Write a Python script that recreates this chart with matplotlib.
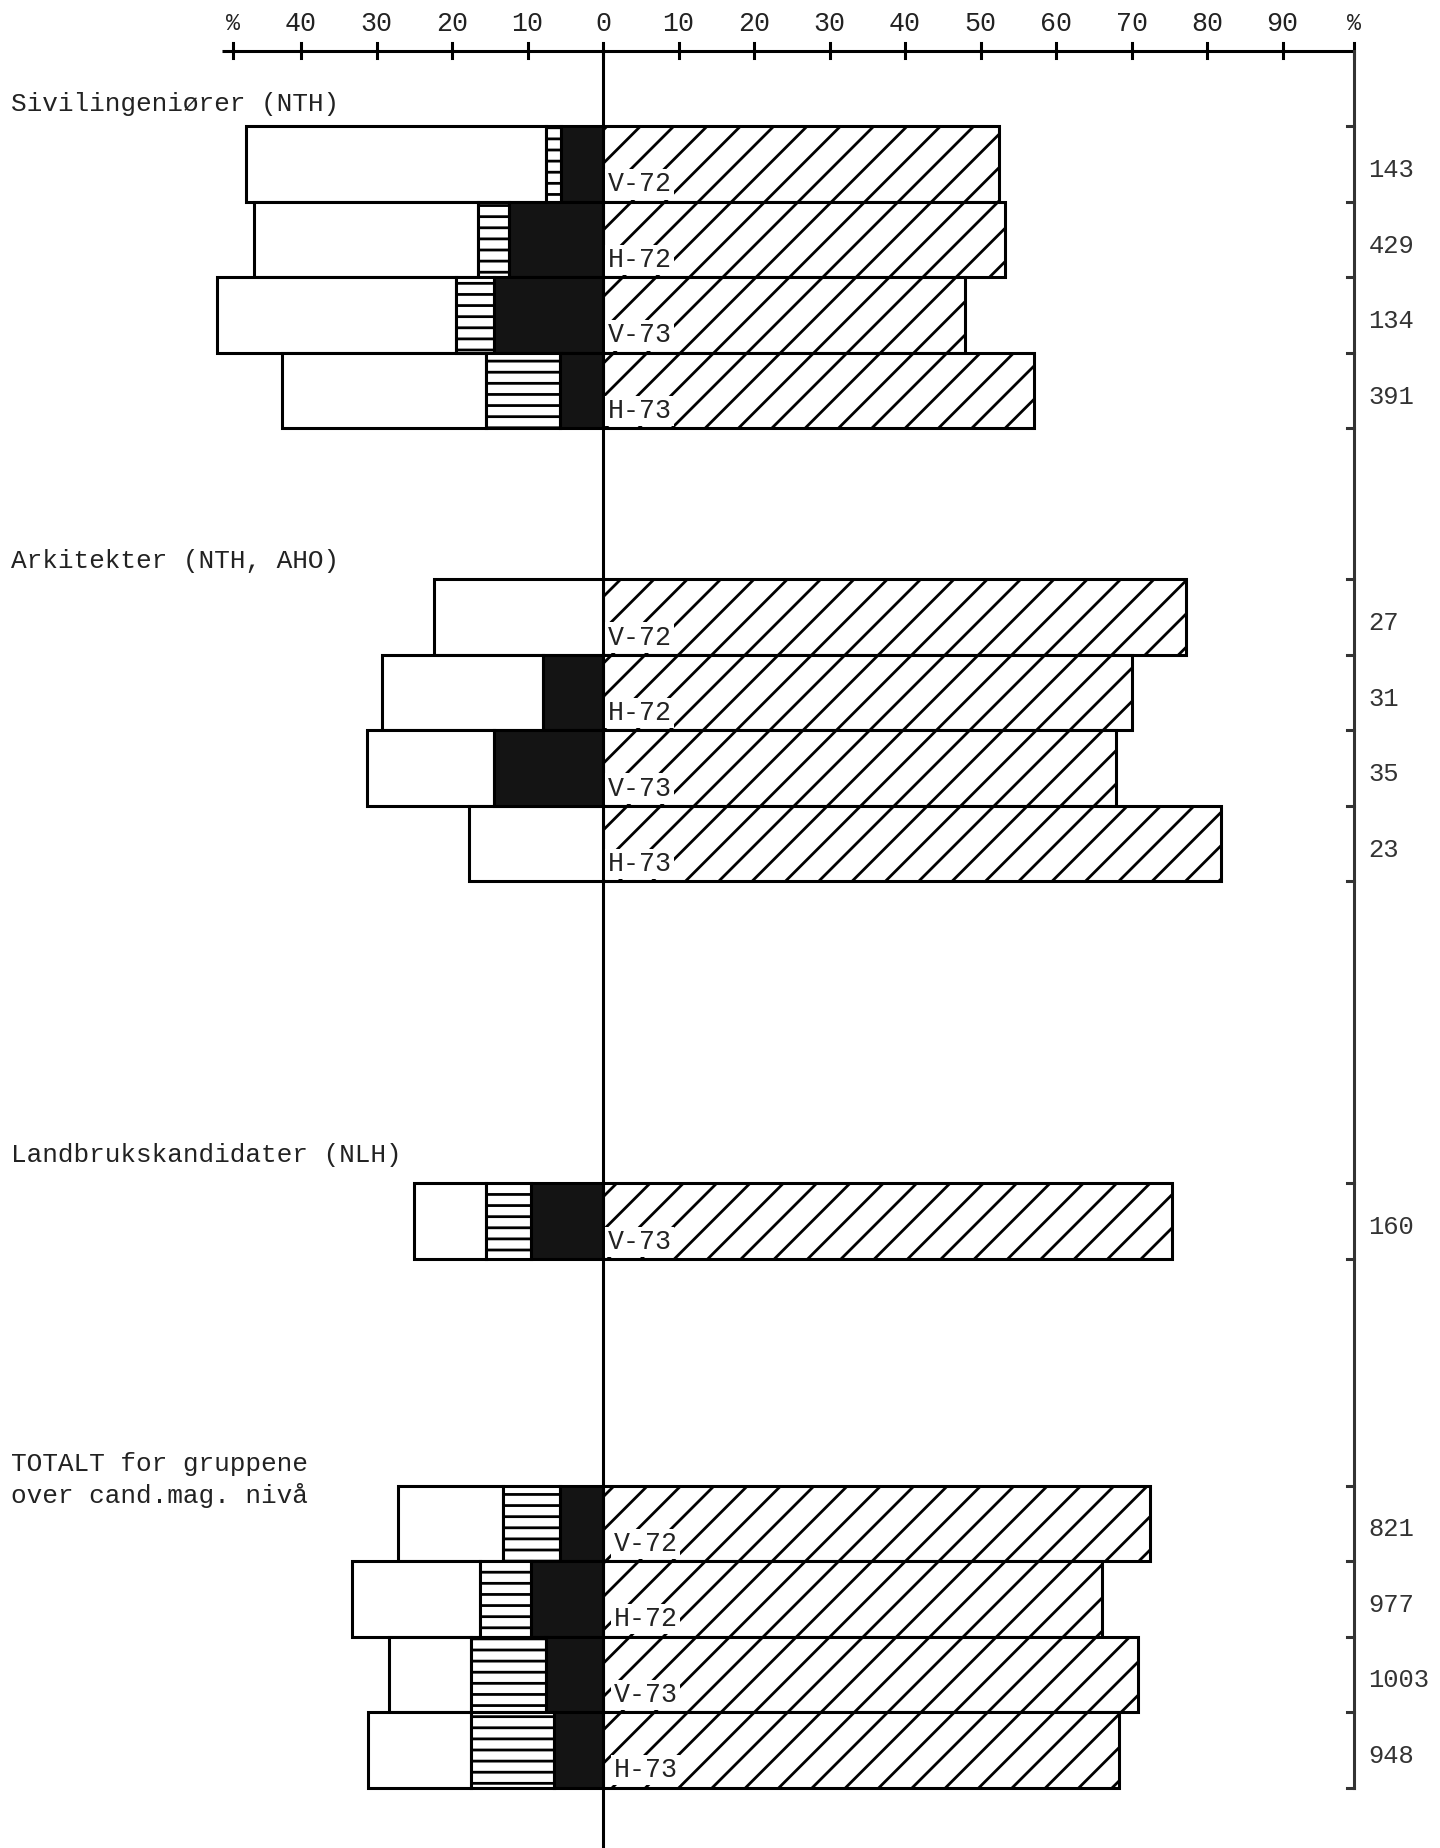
import matplotlib
matplotlib.use("Agg")
import matplotlib.pyplot as plt

# data (percent of candidates)
group_titles = ["Sivilingeniører (NTH)",
                "Arkitekter (NTH, AHO)",
                "Landbrukskandidater (NLH)",
                "TOTALT for gruppene\nover cand.mag. nivå"]
periods = [["V-72", "H-72", "V-73", "H-73"],
           ["V-72", "H-72", "V-73", "H-73"],
           ["V-73"],
           ["V-72", "H-72", "V-73", "H-73"]]
pct_right = [[52.4, 53.3, 48.0, 57.1],
             [77.2, 70.1, 68.0, 81.8],
             [75.3],
             [72.4, 66.1, 70.8, 68.3]]
pct_black = [[5.6, 12.5, 14.4, 5.7],
             [0.0, 7.9, 14.5, 0.0],
             [9.5],
             [5.7, 9.5, 7.5, 6.5]]
pct_lined = [[1.9, 4.0, 5.1, 9.8],
             [0.0, 0.0, 0.0, 0.0],
             [6.0],
             [7.6, 6.8, 10.0, 11.0]]
pct_white = [[39.8, 29.7, 31.6, 27.0],
             [22.4, 21.4, 16.7, 17.7],
             [9.5],
             [13.9, 17.0, 10.8, 13.6]]
n_cand = [[143, 429, 134, 391],
          [27, 31, 35, 23],
          [160],
          [821, 977, 1003, 948]]
scale_ticks = [-40, -30, -20, -10, 0, 10, 20, 30, 40, 50, 60, 70, 80, 90]

# layout
group_rows = [0, 6, 14, 18]
title_rows = [-0.30, 5.75, 13.62, 17.93]
label_x = [0.6, 0.6, 0.6, 1.4]
x_left_pct, x_right_pct = -49, 99.5
FONT = "Liberation Mono"
LW = 1.1

plt.rcParams["hatch.linewidth"] = 1.0
fig = plt.figure(figsize=(7.2, 9.24), dpi=200, facecolor="white")
ax = fig.add_axes([0, 0, 1, 1])
ax.set_xlim(-79.87, 110.86)
ax.set_ylim(22.80, -1.673)
ax.axis("off")

# top scale
ax.plot([-50.5, x_right_pct], [-1, -1], color="black", lw=LW, solid_capstyle="butt")
for t in scale_ticks + [x_left_pct, x_right_pct]:
    ax.plot([t, t], [-1.11, -0.9], color="black", lw=LW)
for t in scale_ticks:
    ax.text(t, -1.36, str(abs(t)), ha="center", va="center",
            family=FONT, fontsize=9.6, color="#222")
for t in [x_left_pct, x_right_pct]:
    ax.text(t, -1.36, "%", ha="center", va="center",
            family=FONT, fontsize=8.4, color="#222")

# centre line and right frame
ax.plot([0, 0], [-1, 22.8], color="black", lw=LW, zorder=1)
ax.plot([x_right_pct, x_right_pct], [-1, 22], color="#333", lw=LW)

for g, title in enumerate(group_titles):
    start = group_rows[g]
    n = len(periods[g])
    ys = [start + i + 0.5 for i in range(n)]
    total_left = [b + l + w for b, l, w in zip(pct_black[g], pct_lined[g], pct_white[g])]

    # right hatched bars
    ax.barh(ys, pct_right[g], left=0, height=1.0, color="white",
            edgecolor="black", hatch="//", lw=LW)
    # left stacked bars: white, lined, black
    ax.barh(ys, pct_white[g], left=[-t for t in total_left], height=1.0,
            color="white", edgecolor="black", lw=LW)
    for y, b, l in zip(ys, pct_black[g], pct_lined[g]):
        if l > 0:
            ax.barh(y, l, left=-(b + l), height=1.0, color="white",
                    edgecolor="black", hatch="---", lw=LW)
        if b > 0:
            ax.barh(y, -b, left=0, height=1.0, color="#141414",
                    edgecolor="black", lw=LW)

    for y, p, cnt in zip(ys, periods[g], n_cand[g]):
        ax.text(label_x[g], y + 0.27, p, ha="left", va="center",
                family=FONT, fontsize=9.6, color="#222", zorder=5,
                bbox=dict(boxstyle="square,pad=0.08", fc="white", ec="none"))
        ax.text(101.4, y + 0.08, str(cnt), ha="left", va="center",
                family=FONT, fontsize=9.2, color="#333")

    # right frame ticks at row boundaries
    for r in range(start, start + n + 1):
        ax.plot([98.6, x_right_pct], [r, r], color="#333", lw=LW)

    ax.text(-78.4, title_rows[g], title, ha="left", va="center",
            family=FONT, fontsize=9.4, color="#222", linespacing=1.35)

fig.savefig("out.png", dpi=200, facecolor="white")
